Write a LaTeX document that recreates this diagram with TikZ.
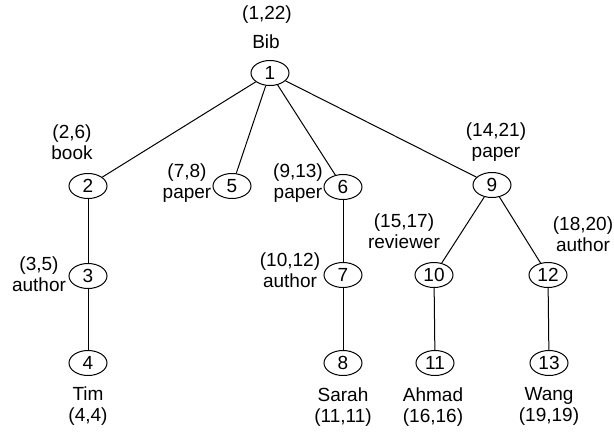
\documentclass[tikz,border=0pt]{standalone}
\usepackage{fontspec}
\setmainfont{Liberation Sans}
\usetikzlibrary{positioning}
\usetikzlibrary{shapes.geometric}
\tikzset{
	every node/.style = {font=\fontsize{19}{21}\selectfont},
	vertex/.style = {draw, ellipse, line width=1pt, minimum width=38pt, minimum height=25pt, inner sep=0pt},
	tag/.style = {align=center, inner sep=0pt}
}

\begin{document}
\begin{tikzpicture}[x=1pt, y=-1pt]
		\useasboundingbox (0,0) rectangle (614,434);
		% depth 0
		\node[vertex] (n1) at (270,73) {1};
		% depth 1
		\node[vertex] (n2) at (88,186) {2};
		\node[vertex] (n5) at (232,186) {5};
		\node[vertex] (n6) at (343,187) {6};
		\node[vertex] (n9) at (492,185) {9};
		% depth 2
		\node[vertex] (n3) at (88,276) {3};
		\node[vertex] (n7) at (343,275) {7};
		\node[vertex] (n10) at (434,275) {10};
		\node[vertex] (n12) at (548,275) {12};
		% leaves
		\node[vertex] (n4) at (88,363) {4};
		\node[vertex] (n8) at (343,363) {8};
		\node[vertex] (n11) at (435,363) {11};
		\node[vertex] (n13) at (549,363) {13};
		
		\foreach \a/\b in {n1/n2, n1/n5, n1/n6, n1/n9, n2/n3, n3/n4, n6/n7, n7/n8, n9/n10, n9/n12, n10/n11, n12/n13}
			\draw[-, line width=1pt, black] (\a) -- (\b);
		
		% labels
		\node[tag] (r1) at (267,15) {(1,22)};
		\node[tag] (b1) at (266,42) {Bib};
		\node[tag] (t2) at (72,142) {(2,6)\\book};
		\node[tag] (t5) at (187,183) {(7,8)\\paper};
		\node[tag] (t6) at (298,183) {(9,13)\\paper};
		\node[tag] (t9) at (496,142) {(14,21)\\paper};
		\node[tag] (t3) at (39,274) {(3,5)\\author};
		\node[tag] (t7) at (290,270) {(10,12)\\author};
		\node[tag] (t10) at (404,231) {(15,17)\\reviewer};
		\node[tag] (t12) at (583,234) {(18,20)\\author};
		\node[tag] (t4) at (88,406) {Tim\\(4,4)};
		\node[tag] (t8) at (343,407) {Sarah\\(11,11)};
		\node[tag] (t11) at (433,407) {Ahmad\\(16,16)};
		\node[tag] (t13) at (549,406) {Wang\\(19,19)};
	\end{tikzpicture}
\end{document}
